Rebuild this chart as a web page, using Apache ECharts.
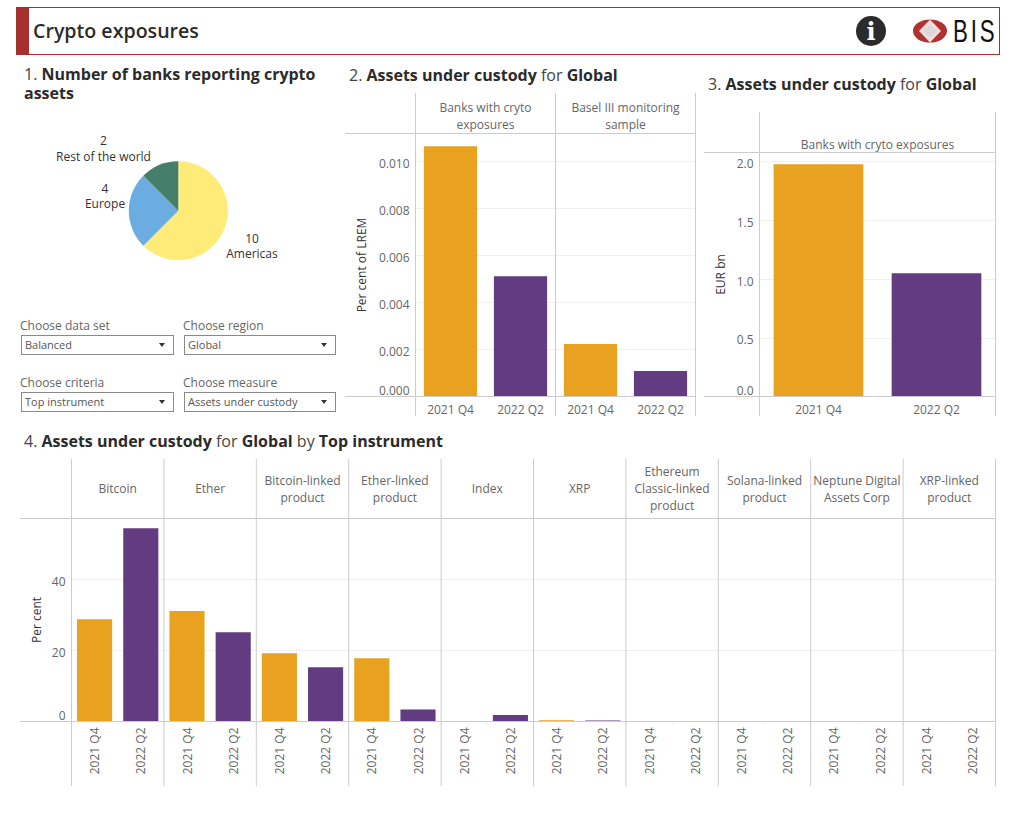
<!DOCTYPE html>
<html>
<head>
<meta charset="UTF-8">
<title>Crypto exposures</title>
<script src="https://cdn.jsdelivr.net/npm/echarts@6/dist/echarts.min.js"></script>
<style>
  html, body { margin: 0; padding: 0; background: #fff; font-family: "Open Sans", sans-serif; color: #2b2b2b; }
  #page { position: relative; width: 1018px; height: 816px; overflow: hidden; }
  #main { position: absolute; left: 0; top: 0; width: 1018px; height: 816px; }
  .header { position: absolute; left: 16px; top: 7px; height: 46px; border: 1px solid #a5302e; border-left: 13px solid #a5302e; box-sizing: content-box; width: 970px; }
  .header span { position: absolute; left: 4px; top: 9px; font-size: 19.6px; line-height: 28px; font-weight: 600; }
  .logo { position: absolute; left: 850px; top: 7px; }
  .ttl { position: absolute; font-size: 16px; line-height: 19px; color: #444; white-space: nowrap; }
  .ttl b { font-weight: 700; color: #2b2b2b; }
  .lab { position: absolute; font-size: 12px; line-height: 16px; color: #666; }
  .sel { position: absolute; width: 151px; height: 18px; border: 1px solid #8a8a8a; font-size: 11px; line-height: 18px; color: #555; box-sizing: content-box; padding: 0; }
  .sel span { margin-left: 3px; }
  .sel i { position: absolute; right: 8px; top: 7px; width: 0; height: 0; border-left: 3px solid transparent; border-right: 3px solid transparent; border-top: 4px solid #333; }
</style>
</head>
<body>
<div id="page">
  <div id="main"></div>
  <div class="header"><span>Crypto exposures</span></div>
  <svg class="logo" width="160" height="48" viewBox="0 0 160 48">
    <circle cx="21" cy="24" r="15" fill="#2b2b2b"/>
    <text x="21" y="33" text-anchor="middle" font-family="DejaVu Serif" font-weight="700" font-size="24" fill="#fff">i</text>
    <ellipse cx="80" cy="24" rx="17" ry="11.5" fill="#b03230"/>
    <path d="M80 12.5 L91 24 L80 35.5 L69 24 Z" fill="#f2dcdc"/>
    <path d="M80 17.5 L87 24 L80 30.5 L73 24 Z" fill="#d9d9d9"/>
    <text transform="translate(103,35) scale(0.72,1)" font-family="Liberation Sans" font-size="31" letter-spacing="4" fill="#111">BIS</text>
  </svg>

  <div class="ttl" style="left:24px;top:65px">1. <b>Number of banks reporting crypto</b><br><b>assets</b></div>
  <div class="ttl" style="left:349px;top:66px">2. <b>Assets under custody</b> for <b>Global</b></div>
  <div class="ttl" style="left:708px;top:75px">3. <b>Assets under custody</b> for <b>Global</b></div>
  <div class="ttl" style="left:24px;top:432px">4. <b>Assets under custody</b> for <b>Global</b> by <b>Top instrument</b></div>

  <div class="lab" style="left:20px;top:318px">Choose data set</div>
  <div class="sel" style="left:21px;top:335px"><span>Balanced</span><i></i></div>
  <div class="lab" style="left:183px;top:318px">Choose region</div>
  <div class="sel" style="left:184px;top:335px;width:150px"><span>Global</span><i></i></div>
  <div class="lab" style="left:20px;top:375px">Choose criteria</div>
  <div class="sel" style="left:21px;top:392px"><span>Top instrument</span><i></i></div>
  <div class="lab" style="left:183px;top:375px">Choose measure</div>
  <div class="sel" style="left:184px;top:392px;width:150px"><span>Assets under custody</span><i></i></div>
</div>

<script type="text/javascript">
// data
var periods = ['2021 Q4', '2022 Q2'];

var regionNames = ['Americas', 'Europe', 'Rest of the world'];
var regionBanks = [10, 4, 2];

var lremPanels = ['Banks with cryto\nexposures', 'Basel III monitoring\nsample'];
var lremQ4 = [0.01065, 0.00223];
var lremQ2 = [0.00512, 0.00108];

var eurPanels = ['Banks with cryto exposures'];
var eurQ4 = [1.977];
var eurQ2 = [1.05];

var instruments = ['Bitcoin', 'Ether', 'Bitcoin-linked\nproduct', 'Ether-linked\nproduct', 'Index', 'XRP',
  'Ethereum\nClassic-linked\nproduct', 'Solana-linked\nproduct', 'Neptune Digital\nAssets Corp', 'XRP-linked\nproduct'];
var instrumentQ4 = [28.8, 31.1, 19.2, 17.8, 0, 0.35, 0, 0, 0, 0];
var instrumentQ2 = [54.4, 25.15, 15.3, 3.4, 1.8, 0.3, 0, 0, 0, 0];

var ORANGE = '#e9a120', PURPLE = '#633b80';
var LINE = '#cccccc', GRIDLINE = '#f0f0f0', TEXT = '#666666', FONT = '"Open Sans", sans-serif';

var dom = document.getElementById('main');
var myChart = echarts.init(dom, null, {renderer: 'svg'});

var grids = [], xAxes = [], yAxes = [], series = [], titles = [], lines = [];

function vline(x, y1, y2) {
    lines.push({type: 'line', silent: true, z: 5, shape: {x1: x, y1: y1, x2: x, y2: y2}, style: {stroke: LINE, lineWidth: 1}});
}
function hline(y, x1, x2) {
    lines.push({type: 'line', silent: true, z: 5, shape: {x1: x1, y1: y, x2: x2, y2: y}, style: {stroke: LINE, lineWidth: 1}});
}

// one small multiple per facet, all sharing the same y scale
function facet(c) {
    var w = c.width / c.names.length;
    hline(c.top, c.axisLeft, c.left + c.width);
    hline(c.bottom, c.axisLeft, c.left + c.width);
    vline(c.left + c.width, c.lineTop, c.lineBottom);
    c.names.forEach(function (name, i) {
        var idx = grids.length;
        var x = c.left + i * w;
        vline(x, c.lineTop, c.lineBottom);
        grids.push({left: x, top: c.top, width: w, height: c.bottom - c.top});
        xAxes.push({
            type: 'category', gridIndex: idx, data: periods,
            axisLine: {show: false},
            axisTick: {show: true, length: 3, lineStyle: {color: GRIDLINE}},
            axisLabel: {color: TEXT, fontSize: 12, fontFamily: FONT, margin: c.rotate ? 6 : 7, rotate: c.rotate || 0, interval: 0}
        });
        yAxes.push({
            type: 'value', gridIndex: idx, min: 0, max: c.max, interval: c.step,
            name: i === 0 ? c.yName : '', nameLocation: 'middle', nameGap: c.nameGap,
            nameTextStyle: {color: '#333', fontSize: 12, fontFamily: FONT},
            axisLine: {show: false}, axisTick: {show: false},
            splitLine: {show: true, lineStyle: {color: GRIDLINE, width: 1}},
            axisLabel: {
                show: i === 0, margin: 6,
                showMaxLabel: false, verticalAlignMinLabel: 'bottom',
                // the tick labels sit a little under their gridlines
                rich: {t: {color: TEXT, fontSize: 12, fontFamily: FONT, padding: [4, 0, 0, 0]}},
                formatter: function (v) { return '{t|' + v.toFixed(c.digits) + '}'; }
            }
        });
        series.push({
            type: 'bar', xAxisIndex: idx, yAxisIndex: idx, barWidth: '76%', silent: true,
            data: [
                {value: c.q4[i], itemStyle: {color: ORANGE}},
                {value: c.q2[i], itemStyle: {color: PURPLE}}
            ]
        });
        titles.push({
            text: name, left: x + w / 2, top: (c.lineTop + c.top) / 2 + (c.stripShift || 0), padding: 0,
            textAlign: 'center', textVerticalAlign: 'middle',
            textStyle: {color: TEXT, fontSize: 12, fontWeight: 'normal', fontFamily: FONT, lineHeight: 17}
        });
    });
}

facet({
    names: lremPanels, q4: lremQ4, q2: lremQ2, left: 415.5, width: 280, top: 133.5, bottom: 396.5,
    axisLeft: 345, lineTop: 93, lineBottom: 416, max: 0.01119, step: 0.002, digits: 3,
    yName: 'Per cent of LREM', nameGap: 48, stripShift: 3
});
facet({
    names: eurPanels, q4: eurQ4, q2: eurQ2, left: 759.5, width: 236, top: 152.5, bottom: 396.5,
    axisLeft: 704, lineTop: 112, lineBottom: 416, max: 2.0766, step: 0.5, digits: 1,
    yName: 'EUR bn', nameGap: 33, stripShift: 12
});
facet({
    names: instruments, q4: instrumentQ4, q2: instrumentQ2, left: 71.5, width: 924, top: 518.5, bottom: 721.5,
    axisLeft: 20, lineTop: 459, lineBottom: 786, max: 57.18, step: 20, digits: 0,
    yName: 'Per cent', nameGap: 29, rotate: 90
});

// where each pie label sits, same order as regionNames
var pieLabelAt = [[252, 246], [105, 196], [103.5, 148.7]];

series.push({
    type: 'pie', center: [178.3, 210.7], radius: [0, 49.5], startAngle: 90, clockwise: true, silent: true,
    color: ['#ffec78', '#6cade1', '#457e6b'],
    data: regionNames.map(function (n, i) { return {name: n, value: regionBanks[i]}; }),
    label: {formatter: '{c}\n{b}', color: '#333', fontSize: 12, fontFamily: FONT, lineHeight: 15.5, align: 'center'},
    labelLine: {show: false},
    labelLayout: function (p) {
        return {x: pieLabelAt[p.dataIndex][0], y: pieLabelAt[p.dataIndex][1], align: 'center', verticalAlign: 'middle'};
    }
});

var option = {
    animation: false,
    title: titles,
    grid: grids,
    xAxis: xAxes,
    yAxis: yAxes,
    series: series,
    graphic: lines
};
myChart.setOption(option, true);
</script>
</body>
</html>
